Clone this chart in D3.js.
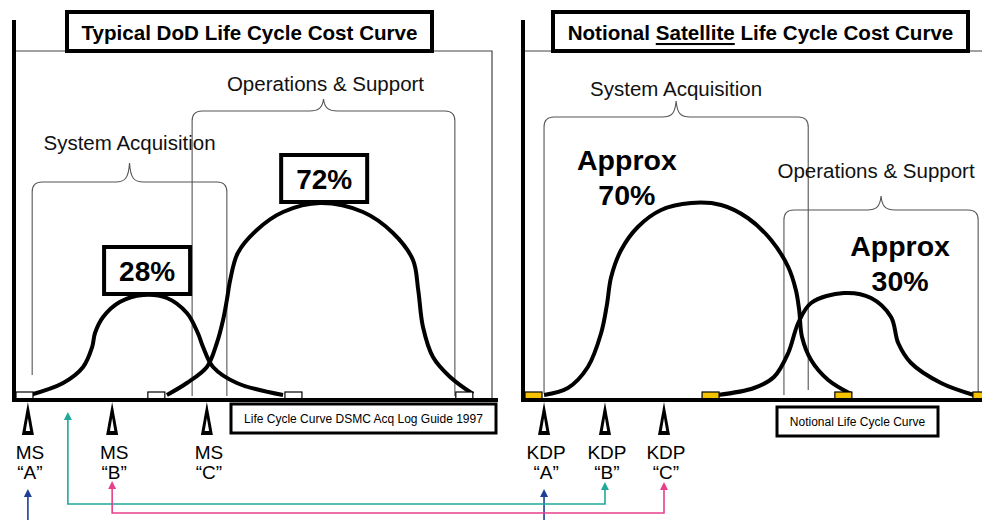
<!DOCTYPE html>
<html>
<head>
<meta charset="utf-8">
<script src="https://cdn.jsdelivr.net/npm/d3@7"></script>
<style>
  body { margin: 0; background: #fff; }
  svg { display: block; font-family: "Liberation Sans", Arial, sans-serif; }
</style>
</head>
<body>
<div id="chart"></div>
<script>
// time runs 0..100 across each panel, cost is relative (0..100)

// Typical DoD curve
const dodAcqCurve = [[2.9,0.5],[9.9,6.5],[14.1,14.5],[16.0,24.5],[16.6,31.5],[18.3,39.5],[21.8,47],
    [26.7,50.5],[31.7,49],[35.9,41.5],[38.2,31.5],[39.3,24.5],[41.4,14.5],[46.4,6.5],[56.1,0.5]];
const dodOpsCurve = [[31.7,0.5],[35.9,6.5],[40.1,14.5],[42.2,26.5],[43.5,38],[44.3,48],[45.0,58],
    [46.6,71.5],[50.6,83],[56.1,92],[63.9,96.5],[72.9,92],[79.2,81.5],[83.4,68],[84.5,53],
    [85.5,34.5],[87.6,19.5],[91.2,9.5],[96.0,1]];
const dodShares = ["28%", "72%"];
const dodMarkers = [0, 27.7, 56.5, 92.4];
const dodMilestones = ["A", "B", "C"];
const dodMilestoneT = [2.5, 20.2, 40.1];
const dodPhases = ["System Acquisition", "Operations & Support"];
const dodPhaseStart = [3.4, 37.0];
const dodPhaseEnd = [44.3, 92.2];

// Notional satellite curve
const satAcqCurve = [[4.0,0.5],[9.0,4],[13.2,14.5],[16.0,31.5],[17.2,45.5],[18.1,59.5],[20.2,73],
    [23.7,84.5],[28.6,93],[34.9,96.5],[41.2,95.5],[46.8,89],[51.7,78],[55.3,64.5],[56.9,53],
    [57.6,43],[58.2,29.5],[60.1,18],[63.7,8],[68.5,1]];
const satOpsCurve = [[40.5,0.5],[48.1,4],[52.3,9.5],[55.3,21.5],[57.4,36.5],[60.1,46.5],[67.0,51.5],
    [72.7,49],[76.9,39.5],[78.4,26.5],[81.1,16.5],[87.4,6.5],[94.3,0.5]];
const satShares = ["70%", "30%"];
const satMarkers = [0, 37.2, 65.1, 94.1];
const satMilestones = ["A", "B", "C"];
const satMilestoneT = [4.0, 16.8, 29.2];
const satPhases = ["System Acquisition", "Operations & Support"];
const satPhaseStart = [4.0, 54.4];
const satPhaseEnd = [59.5, 95.2];

// milestone links: DoD time -> satellite time
const linkFromT = [2.5, 10.9, 20.2];
const linkToT = [4.0, 16.8, 29.2];
const linkColors = ["#1d3f96", "#20a89a", "#e6408a"];

const width = 982, height = 520;
const baseY = 400;

const y = d3.scaleLinear().domain([0, 100]).range([396, 196]);
const xDod = d3.scaleLinear().domain([0, 100]).range([16, 492]);
const xSat = d3.scaleLinear().domain([0, 100]).range([525, 1001]);

const svg = d3.select("#chart").append("svg")
    .attr("width", width)
    .attr("height", height);

function brace(x0, x1, yh, ytip, bot0, bot1) {
    const xc = (x0 + x1) / 2, r = 10;
    return `M${x0},${bot0} L${x0},${yh + r} Q${x0},${yh} ${x0 + r},${yh} L${xc - 14},${yh}` +
        ` C${xc - 5},${yh} ${xc - 1},${yh - 3} ${xc},${ytip}` +
        ` C${xc + 1},${yh - 3} ${xc + 5},${yh} ${xc + 14},${yh}` +
        ` L${x1 - r},${yh} Q${x1},${yh} ${x1},${yh + r} L${x1},${bot1}`;
}

function drawPanel(p) {
    const g = svg.append("g");
    const x = p.x;
    const x0 = x.range()[0] - 2;

    // thin frame
    g.append("path")
        .attr("d", p.frameRight
            ? `M${x0},51 L${x(100)},51 L${x(100)},${baseY}`
            : `M${x0},51 L${width},51`)
        .attr("fill", "none").attr("stroke", "#444").attr("stroke-width", 1.2);

    // phase braces
    p.phases.forEach((name, i) => {
        const L = p.phaseLayout[i];
        const a = x(p.phaseStart[i]), b = x(p.phaseEnd[i]);
        g.append("path")
            .attr("d", brace(a, b, L.level, L.tip, L.bottom[0], L.bottom[1]))
            .attr("fill", "none").attr("stroke", "#555").attr("stroke-width", 1.1);
        g.append("text")
            .attr("x", (a + b) / 2 + (L.dx || 0)).attr("y", L.label)
            .attr("text-anchor", "middle").attr("dominant-baseline", "central")
            .style("font-size", "20.5px").attr("fill", "#111")
            .text(name);
    });

    // cost curves
    const line = d3.line()
        .x(d => x(d[0]))
        .y(d => y(d[1]))
        .curve(d3.curveCatmullRom.alpha(0.5));
    p.curves.forEach(c => {
        g.append("path").datum(c).attr("d", line)
            .attr("fill", "none").attr("stroke", "#000").attr("stroke-width", 4);
    });

    // share labels
    p.curves.forEach((c, i) => {
        const peak = c.reduce((m, d) => d[1] > m[1] ? d : m);
        if (p.boxed) {
            const cx = x(peak[0]) + 4, bottom = y(peak[1]) - 1;
            g.append("rect")
                .attr("x", cx - 43).attr("y", bottom - 47)
                .attr("width", 86).attr("height", 47)
                .attr("fill", "#fff").attr("stroke", "#000").attr("stroke-width", 4);
            g.append("text")
                .attr("x", cx).attr("y", bottom - 23)
                .attr("text-anchor", "middle").attr("dominant-baseline", "central")
                .style("font-size", "28px").style("font-weight", "bold")
                .text(p.shares[i]);
        } else {
            const L = p.shareLayout[i];
            const t = g.append("text")
                .attr("x", x(L.t)).attr("y", L.y)
                .attr("text-anchor", "middle")
                .style("font-size", "28.5px").style("font-weight", "bold");
            t.append("tspan").attr("x", x(L.t)).attr("dy", 0).text("Approx");
            t.append("tspan").attr("x", x(L.t)).attr("dy", 35).text(p.shares[i]);
        }
    });

    // baseline markers
    g.selectAll("rect.marker").data(p.markers).enter().append("rect")
        .attr("class", "marker")
        .attr("x", d => x(d)).attr("y", 392)
        .attr("width", 17).attr("height", 8)
        .attr("fill", p.markerFill).attr("stroke", "#000").attr("stroke-width", 1.2);

    // axes
    g.append("line")
        .attr("x1", x0).attr("x2", x0).attr("y1", 20).attr("y2", baseY + 2)
        .attr("stroke", "#000").attr("stroke-width", 4);
    g.append("line")
        .attr("x1", x0 - 2).attr("x2", p.baseEnd).attr("y1", baseY).attr("y2", baseY)
        .attr("stroke", "#000").attr("stroke-width", 4);

    // title box
    const tb = p.titleBox;
    g.append("rect")
        .attr("x", tb[0]).attr("y", 12).attr("width", tb[1] - tb[0]).attr("height", 39)
        .attr("fill", "#fff").attr("stroke", "#000").attr("stroke-width", 4);
    const title = g.append("text")
        .attr("x", (tb[0] + tb[1]) / 2).attr("y", 32)
        .attr("text-anchor", "middle").attr("dominant-baseline", "central")
        .style("font-size", "20.6px").style("font-weight", "bold");
    p.title.forEach(part => {
        title.append("tspan")
            .style("text-decoration", part.u ? "underline" : null)
            .text(part.s);
    });

    // note box
    const nb = p.noteBox;
    g.append("rect")
        .attr("x", nb[0]).attr("y", nb[1]).attr("width", nb[2] - nb[0]).attr("height", nb[3] - nb[1])
        .attr("fill", "#fff").attr("stroke", "#000").attr("stroke-width", 3);
    g.append("text")
        .attr("x", (nb[0] + nb[2]) / 2).attr("y", (nb[1] + nb[3]) / 2)
        .attr("text-anchor", "middle").attr("dominant-baseline", "central")
        .style("font-size", p.noteSize).text(p.note);

    // milestone pointers
    p.milestoneT.forEach((t, i) => {
        const mx = x(t);
        g.append("path")
            .attr("d", `M${mx},${baseY + 2} L${mx + 6},435 L${mx - 6},435 Z`)
            .attr("fill", "#000");
        g.append("path")
            .attr("d", `M${mx},418 L${mx + 2.2},431 L${mx - 2.2},431 Z`)
            .attr("fill", "#fff");
        g.append("text")
            .attr("x", mx + 2).attr("y", 452)
            .attr("text-anchor", "middle").attr("dominant-baseline", "central")
            .style("font-size", "19px").text(p.milestoneName);
        g.append("text")
            .attr("x", mx + 2).attr("y", 472)
            .attr("text-anchor", "middle").attr("dominant-baseline", "central")
            .style("font-size", "19px").text("\u201C" + p.milestones[i] + "\u201D");
    });
}

drawPanel({
    x: xDod,
    frameRight: true,
    baseEnd: 498,
    title: [{ s: "Typical DoD Life Cycle Cost Curve" }],
    titleBox: [67, 432],
    curves: [dodAcqCurve, dodOpsCurve],
    shares: dodShares,
    boxed: true,
    markers: dodMarkers,
    markerFill: "#fff",
    milestones: dodMilestones,
    milestoneT: dodMilestoneT,
    milestoneName: "MS",
    phases: dodPhases,
    phaseStart: dodPhaseStart,
    phaseEnd: dodPhaseEnd,
    phaseLayout: [
        { level: 182, tip: 163, label: 142, bottom: [375, 396] },
        { level: 111, tip: 99, label: 83, bottom: [396, 396], dx: 2 }
    ],
    note: "Life Cycle Curve DSMC Acq Log Guide 1997",
    noteSize: "12px",
    noteBox: [231, 404, 496, 433]
});

drawPanel({
    x: xSat,
    frameRight: false,
    baseEnd: width,
    title: [{ s: "Notional " }, { s: "Satellite", u: true }, { s: " Life Cycle Cost Curve" }],
    titleBox: [553, 968],
    curves: [satAcqCurve, satOpsCurve],
    shares: satShares,
    boxed: false,
    shareLayout: [{ t: 21.4, y: 170 }, { t: 78.8, y: 256 }],
    markers: satMarkers,
    markerFill: "#f5c200",
    milestones: satMilestones,
    milestoneT: satMilestoneT,
    milestoneName: "KDP",
    phases: satPhases,
    phaseStart: satPhaseStart,
    phaseEnd: satPhaseEnd,
    phaseLayout: [
        { level: 117, tip: 101, label: 88, bottom: [393, 390] },
        { level: 210, tip: 196, label: 170, bottom: [395, 395], dx: -5 }
    ],
    note: "Notional Life Cycle Curve",
    noteSize: "12px",
    noteBox: [777, 407, 938, 436]
});

// links between the two milestone sets
const linkLevel = [545, 504, 513];
const tipFromY = [489, 412, 481];
const tipToY = [489, 482, 482];

linkFromT.forEach((t, i) => {
    const a = xDod(t), b = xSat(linkToT[i]), lv = linkLevel[i];
    const col = linkColors[i];
    svg.append("path")
        .attr("d", `M${a},${tipFromY[i] + 6} L${a},${lv} L${b},${lv} L${b},${tipToY[i] + 6}`)
        .attr("fill", "none").attr("stroke", col).attr("stroke-width", 1.6);
    [[a, tipFromY[i]], [b, tipToY[i]]].forEach(([ax, ay]) => {
        svg.append("path")
            .attr("d", `M${ax},${ay} L${ax + 4},${ay + 8} L${ax - 4},${ay + 8} Z`)
            .attr("fill", col);
    });
});
</script>
</body>
</html>
